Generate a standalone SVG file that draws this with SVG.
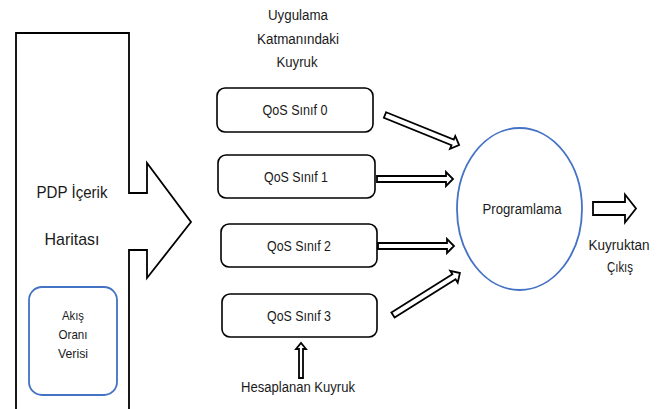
<svg xmlns="http://www.w3.org/2000/svg" width="662" height="409" viewBox="0 0 662 409">
<style>
text{font-family:"Liberation Sans",Arial,sans-serif;fill:#1a1a1a;text-anchor:middle}
.t13{font-size:14px}
.t12{font-size:13px}
.t16{font-size:17px}
.box{fill:#fff;stroke:#000;stroke-width:1.6}
.blk{fill:#fff;stroke:#000;stroke-width:1.8;stroke-linejoin:miter}
.blue{fill:#fff;stroke:#4472C4;stroke-width:1.8}
</style>
<rect width="662" height="409" fill="#fff"/>
<g id="pdp">
<path class="blk" d="M16,411 L16,33 L129,33 L129,193 L147,193 L147,163 L191,222 L147,278 L147,250 L129,250 L129,411"/>
<text class="t16" x="72" y="198" textLength="71" lengthAdjust="spacingAndGlyphs">PDP İçerik</text>
<text class="t16" x="72" y="245" textLength="55" lengthAdjust="spacingAndGlyphs">Haritası</text>
</g>
<g id="akis">
<rect class="blue" x="29" y="287" width="88" height="108" rx="13"/>
<text class="t12" x="73" y="320" textLength="22" lengthAdjust="spacingAndGlyphs">Akış</text>
<text class="t12" x="73" y="339" textLength="29" lengthAdjust="spacingAndGlyphs">Oranı</text>
<text class="t12" x="73" y="358" textLength="30" lengthAdjust="spacingAndGlyphs">Verisi</text>
</g>
<g id="header">
<text class="t13" x="298" y="20" textLength="60" lengthAdjust="spacingAndGlyphs">Uygulama</text>
<text class="t13" x="298" y="44" textLength="82" lengthAdjust="spacingAndGlyphs">Katmanındaki</text>
<text class="t13" x="297" y="67" textLength="41" lengthAdjust="spacingAndGlyphs">Kuyruk</text>
</g>
<g id="qos0">
<rect class="box" x="217" y="88" width="156" height="44" rx="8"/>
<text class="t13" x="295" y="115" textLength="65" lengthAdjust="spacingAndGlyphs">QoS Sınıf 0</text>
</g>
<g id="qos1">
<rect class="box" x="218" y="155" width="157" height="43" rx="8"/>
<text class="t13" x="296" y="182" textLength="64" lengthAdjust="spacingAndGlyphs">QoS Sınıf 1</text>
</g>
<g id="qos2">
<rect class="box" x="221" y="224" width="156" height="43" rx="8"/>
<text class="t13" x="299" y="251" textLength="64" lengthAdjust="spacingAndGlyphs">QoS Sınıf 2</text>
</g>
<g id="qos3">
<rect class="box" x="222" y="294" width="155" height="43" rx="8"/>
<text class="t13" x="299" y="321" textLength="64" lengthAdjust="spacingAndGlyphs">QoS Sınıf 3</text>
</g>
<g id="programlama">
<ellipse class="blue" cx="519.5" cy="209" rx="62.5" ry="81"/>
<text class="t13" x="522" y="214" textLength="79" lengthAdjust="spacingAndGlyphs">Programlama</text>
</g>
<g id="cikis-label">
<text class="t13" x="619" y="250" textLength="61" lengthAdjust="spacingAndGlyphs">Kuyruktan</text>
<text class="t13" x="620" y="272" textLength="26" lengthAdjust="spacingAndGlyphs">Çıkış</text>
</g>
<g id="hesap-label">
<text class="t13" x="298" y="392" textLength="114" lengthAdjust="spacingAndGlyphs">Hesaplanan Kuyruk</text>
</g>
<g id="connectors">
<path class="blk" transform="translate(385,115) rotate(22.1)" d="M0,-3 L73,-3 L73,-7 L80,0 L73,7 L73,3 L0,3 Z"/>
<path class="blk" transform="translate(377,179)" d="M0,-3 L69,-3 L69,-7 L76,0 L69,7 L69,3 L0,3 Z"/>
<path class="blk" transform="translate(378,246)" d="M0,-3 L69,-3 L69,-7 L76,0 L69,7 L69,3 L0,3 Z"/>
<path class="blk" transform="translate(393,315) rotate(-32.1)" d="M0,-3 L72,-3 L72,-7 L79,0 L72,7 L72,3 L0,3 Z"/>
<path class="blk" transform="translate(593,208.5)" d="M0,-6.5 L32,-6.5 L32,-14 L43,0 L32,14 L32,6.5 L0,6.5 Z"/>
<path class="blk" stroke-width="1.4" transform="translate(301,378) rotate(-90)" d="M0,-2 L29,-2 L29,-5 L35,0 L29,5 L29,2 L0,2 Z"/>
</g>
</svg>
